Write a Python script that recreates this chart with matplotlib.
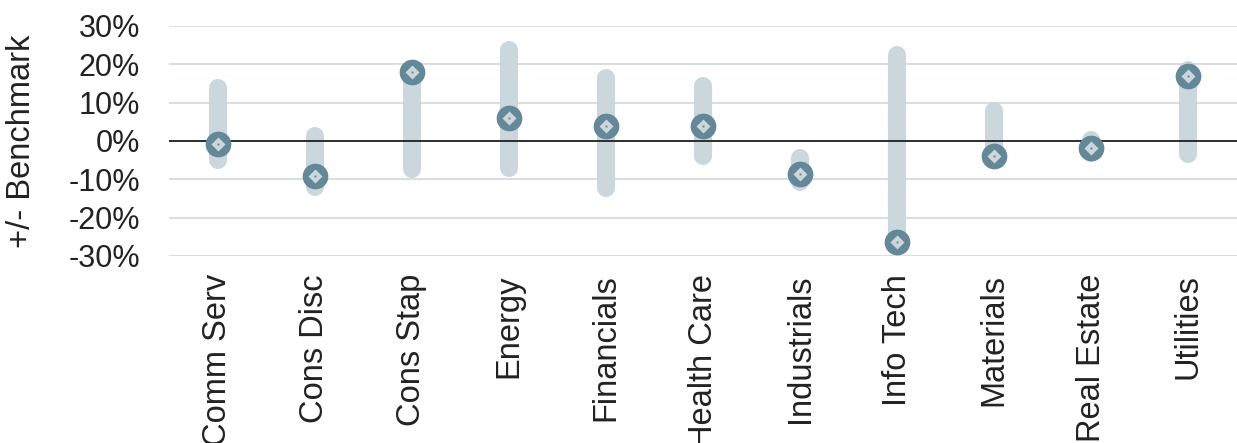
import matplotlib
matplotlib.use("Agg")
import matplotlib.pyplot as plt
from matplotlib.ticker import FuncFormatter

sectors = ["Comm Serv", "Cons Disc", "Cons Stap", "Energy", "Financials", "Health Care",
           "Industrials", "Info Tech", "Materials", "Real Estate", "Utilities"]
range_high = [13.9, 1.4, 18.0, 23.8, 16.5, 14.4, -4.4, 22.5, 7.9, 0.3, 18.6]
range_low = [-5.0, -12.1, -7.4, -7.1, -12.3, -4.0, -10.7, -26.4, -3.9, -3.2, -3.4]
current = [-0.8, -9.1, 18.0, 6.0, 3.9, 3.9, -8.6, -26.4, -3.9, -1.8, 17.0]
yticks = [-30, -20, -10, 0, 10, 20, 30]

bar_color = "#cbd7dc"
dot_color = "#648898"
text_color = "#222222"

plt.rcParams["font.family"] = ["Liberation Sans", "DejaVu Sans"]

fig = plt.figure(figsize=(12.37, 4.43), dpi=100)
ax = fig.add_axes([169 / 1237, 1 - 256 / 443, 1 - 169 / 1237, 230 / 443])

for i in range(len(sectors)):
    ax.plot([i, i], [range_low[i], range_high[i]], color=bar_color, lw=13,
            solid_capstyle="round", zorder=2)

ax.plot(range(len(sectors)), current, "o", ms=18.5, color=dot_color, mec="none", zorder=4)
ax.plot(range(len(sectors)), current, "D", ms=7, color=bar_color, mec="none", zorder=5)
ax.plot(range(len(sectors)), current, "s", ms=1.4, color=dot_color, mec="none", zorder=6)

ax.axhline(0, color="black", lw=1.1, zorder=3)

ax.set_xlim(-0.5, len(sectors) - 0.5)
ax.set_ylim(-30, 30)
ax.set_yticks(yticks)
ax.yaxis.set_major_formatter(FuncFormatter(lambda v, p: f"{v:.0f}%"))
ax.grid(axis="y", color="#d9dee1", lw=1.5, zorder=0)
ax.set_axisbelow(True)

ax.set_xticks(range(len(sectors)))
ax.set_xticklabels(sectors, rotation=90, fontsize=23.5, color=text_color)
ax.tick_params(axis="x", length=0, pad=13)
ax.tick_params(axis="y", length=0, pad=21, labelsize=22, labelcolor=text_color)

for s in ax.spines.values():
    s.set_visible(False)

ax.set_ylabel("+/- Benchmark", fontsize=23.5, color=text_color)
ax.yaxis.set_label_coords(-132 / 1068, 0.5)

fig.savefig("out.png", dpi=100)
